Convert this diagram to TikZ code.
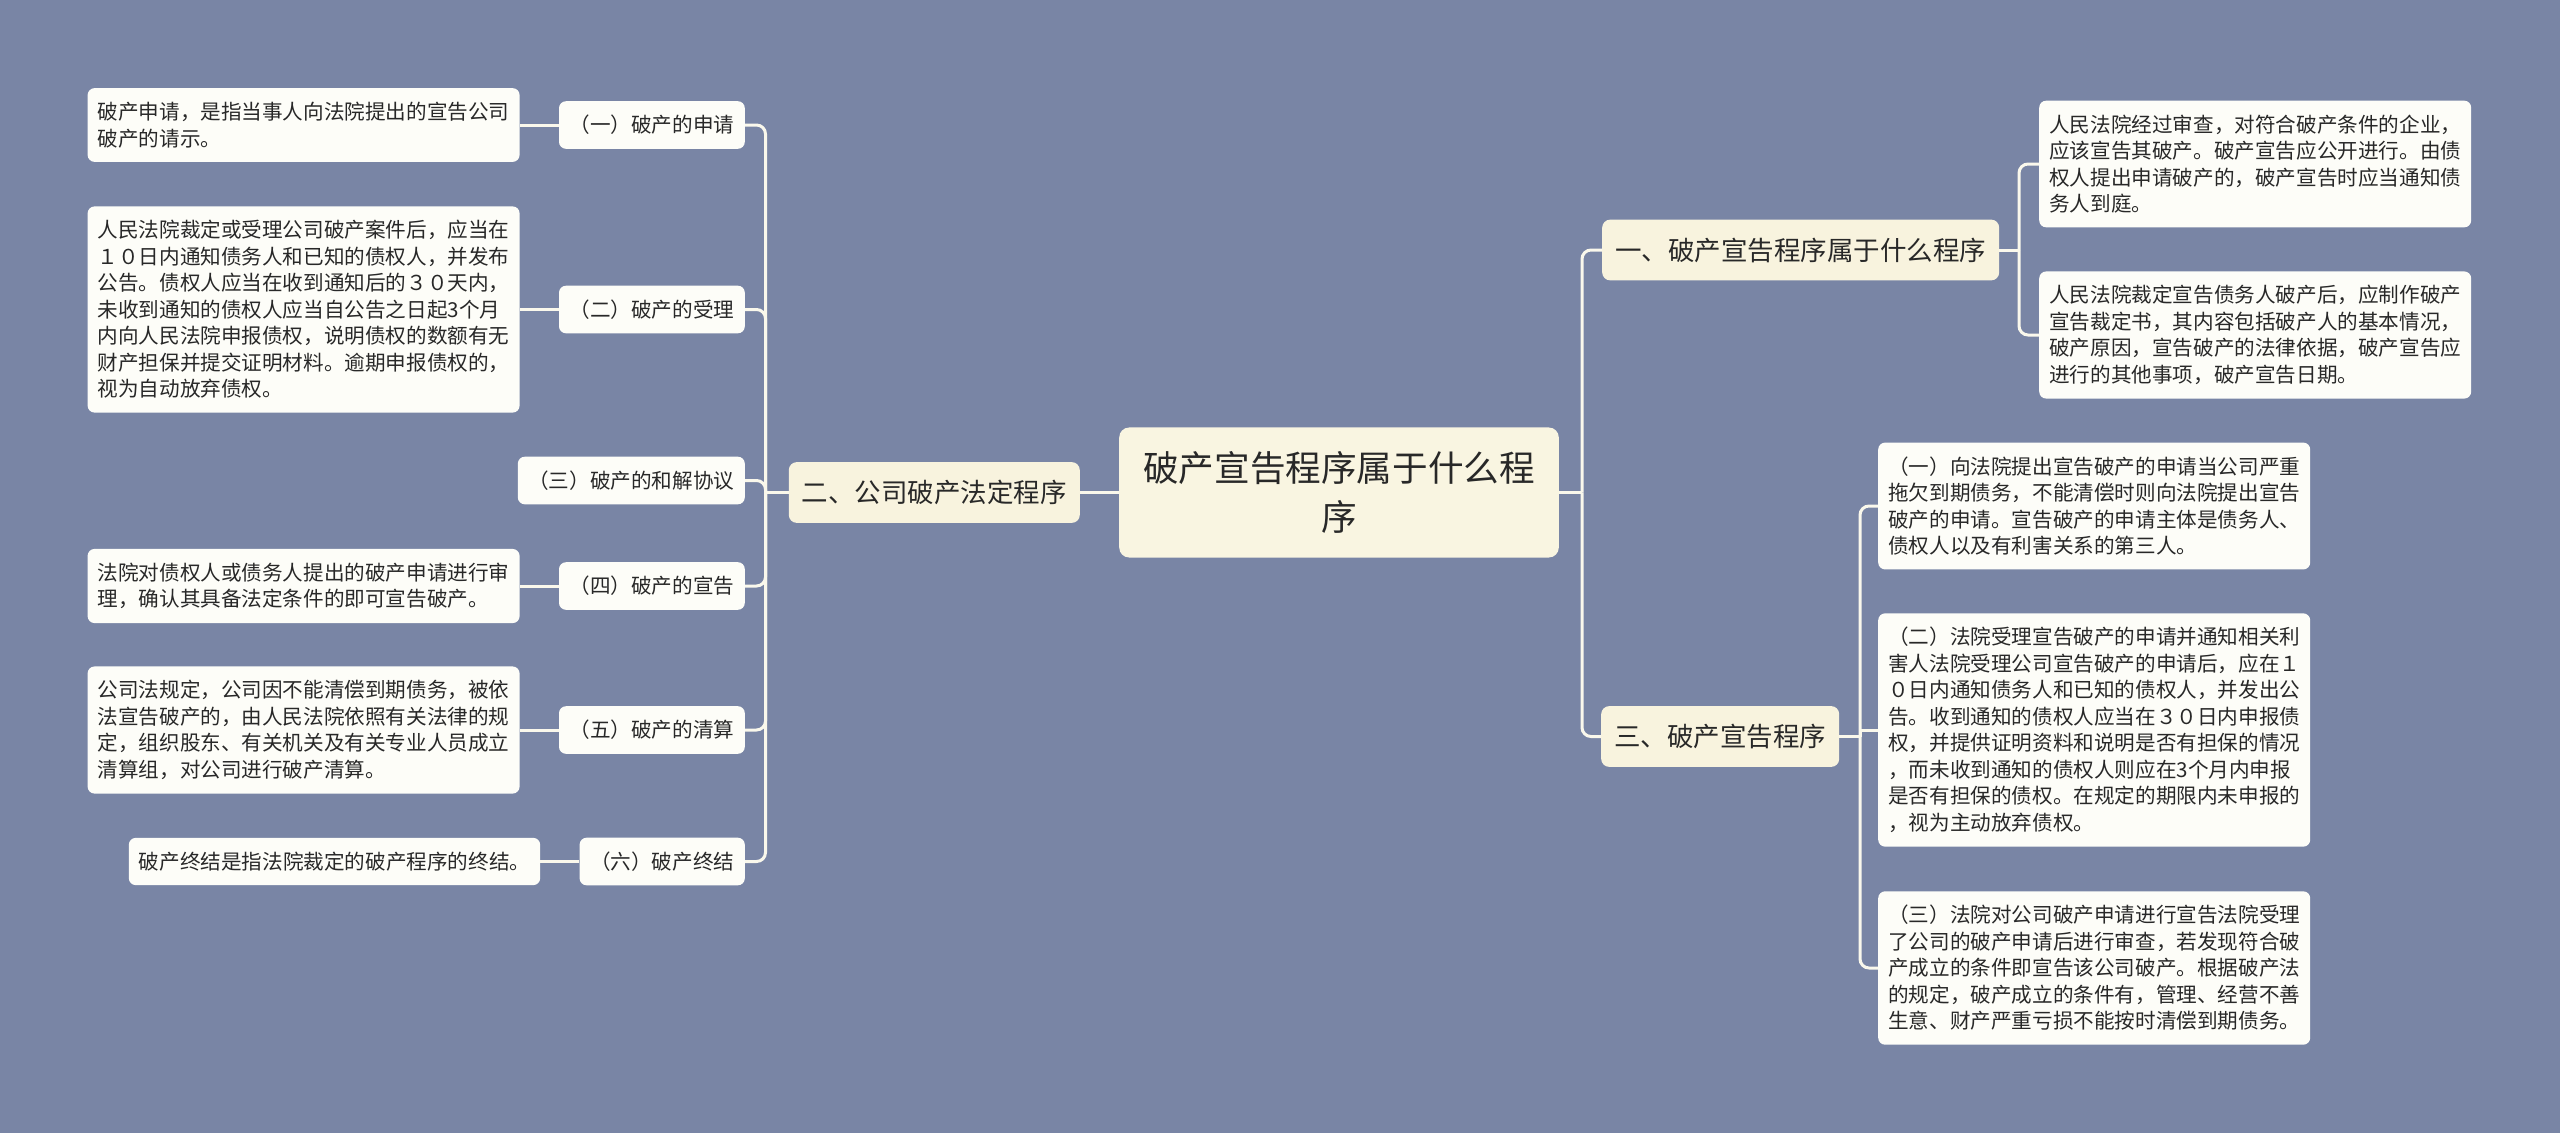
\documentclass[tikz,border=0pt]{standalone}
\usepackage{fontspec}
\setmainfont{Noto Sans CJK SC}
\usetikzlibrary{positioning}

\definecolor{bgblue}{RGB}{121,133,165}
\definecolor{rootcream}{RGB}{249,245,225}
\definecolor{branchcream}{RGB}{248,243,222}
\definecolor{leafwhite}{RGB}{253,253,248}
\definecolor{linecream}{RGB}{250,248,236}
\definecolor{textgray}{RGB}{40,40,40}

\begin{document}
\begin{tikzpicture}[x=1pt, y=-1pt,
	rootbox/.style={fill=rootcream, rounded corners=10pt, inner xsep=24pt, inner ysep=24pt,
		align=center, text=textgray, font=\fontsize{35.6}{49}\selectfont},
	branchbox/.style={fill=branchcream, rounded corners=8pt, inner xsep=13pt, inner ysep=18pt,
		text=textgray, font=\fontsize{26.5}{30}\selectfont},
	labelbox/.style={fill=leafwhite, rounded corners=7pt, inner xsep=10.5pt, inner ysep=14pt,
		text=textgray, font=\fontsize{20.6}{24}\selectfont},
	leafbox/.style={fill=leafwhite, rounded corners=7pt, inner xsep=10pt, inner ysep=14pt,
		align=left, text=textgray, font=\fontsize{20.6}{26.5}\selectfont},
	link/.style={draw=linecream, line width=3pt},
	elbow/.style={link, rounded corners=9pt}]
	
	%Background
	\fill[bgblue] (0,0) rectangle (2560,1133);
	\useasboundingbox (0,0) rectangle (2560,1133);
	
	%Root
	\node (root) at (1339,492.5) [rootbox] {破产宣告程序属于什么程\\序};
	
	%Left branch
	\node (brTwo) [branchbox, left=39pt of root] {二、公司破产法定程序};
	
	\node (labA) at (745,125) [labelbox, anchor=east] {（一）破产的申请};
	\node (labB) at (745,309.5) [labelbox, anchor=east] {（二）破产的受理};
	\node (labC) at (745,480.5) [labelbox, anchor=east] {（三）破产的和解协议};
	\node (labD) at (745,586) [labelbox, anchor=east] {（四）破产的宣告};
	\node (labE) at (745,730) [labelbox, anchor=east] {（五）破产的清算};
	\node (labF) at (745,861.5) [labelbox, anchor=east] {（六）破产终结};
	
	\node (leafA) [leafbox, left=39pt of labA] {破产申请，是指当事人向法院提出的宣告公司\\破产的请示。};
	\node (leafB) [leafbox, left=39pt of labB] {人民法院裁定或受理公司破产案件后，应当在\\１０日内通知债务人和已知的债权人，并发布\\公告。债权人应当在收到通知后的３０天内，\\未收到通知的债权人应当自公告之日起3个月\\内向人民法院申报债权，说明债权的数额有无\\财产担保并提交证明材料。逾期申报债权的，\\视为自动放弃债权。};
	\node (leafD) [leafbox, left=39pt of labD] {法院对债权人或债务人提出的破产申请进行审\\理，确认其具备法定条件的即可宣告破产。};
	\node (leafE) [leafbox, left=39pt of labE] {公司法规定，公司因不能清偿到期债务，被依\\法宣告破产的，由人民法院依照有关法律的规\\定，组织股东、有关机关及有关专业人员成立\\清算组，对公司进行破产清算。};
	\node (leafF) [leafbox, left=39pt of labF] {破产终结是指法院裁定的破产程序的终结。};
	
	%Right branches
	\node (brOne) at (1602,250) [branchbox, anchor=west] {一、破产宣告程序属于什么程序};
	\node (brThree) at (1601,736.5) [branchbox, anchor=west] {三、破产宣告程序};
	
	\node (leafRA) at (2039,164) [leafbox, anchor=west] {人民法院经过审查，对符合破产条件的企业，\\应该宣告其破产。破产宣告应公开进行。由债\\权人提出申请破产的，破产宣告时应当通知债\\务人到庭。};
	\node (leafRB) at (2039,335) [leafbox, anchor=west] {人民法院裁定宣告债务人破产后，应制作破产\\宣告裁定书，其内容包括破产人的基本情况，\\破产原因，宣告破产的法律依据，破产宣告应\\进行的其他事项，破产宣告日期。};
	
	\node (leafRC) at (1878,506) [leafbox, anchor=west] {（一）向法院提出宣告破产的申请当公司严重\\拖欠到期债务，不能清偿时则向法院提出宣告\\破产的申请。宣告破产的申请主体是债务人、\\债权人以及有利害关系的第三人。};
	\node (leafRD) at (1878,730) [leafbox, anchor=west] {（二）法院受理宣告破产的申请并通知相关利\\害人法院受理公司宣告破产的申请后，应在１\\０日内通知债务人和已知的债权人，并发出公\\告。收到通知的债权人应当在３０日内申报债\\权，并提供证明资料和说明是否有担保的情况\\，而未收到通知的债权人则应在3个月内申报\\是否有担保的债权。在规定的期限内未申报的\\，视为主动放弃债权。};
	\node (leafRE) at (1878,968) [leafbox, anchor=west] {（三）法院对公司破产申请进行宣告法院受理\\了公司的破产申请后进行审查，若发现符合破\\产成立的条件即宣告该公司破产。根据破产法\\的规定，破产成立的条件有，管理、经营不善\\生意、财产严重亏损不能按时清偿到期债务。};
	
	%Spines
	\coordinate (spineL) at (765.5,492.5);
	\coordinate (spineR) at (1582,492.5);
	\coordinate (spineOne) at (2019,250);
	\coordinate (spineThree) at (1860,736.5);
	
	%Links left
	\draw[link] (root.west) -- (brTwo.east);
	\draw[link] (brTwo.west) -- (spineL);
	\foreach \lab in {labA,labB,labC,labD,labE,labF}
		\draw[elbow] (spineL) |- (\lab.east);
	\draw[link] (labA.west) -- (leafA.east);
	\draw[link] (labB.west) -- (leafB.east);
	\draw[link] (labD.west) -- (leafD.east);
	\draw[link] (labE.west) -- (leafE.east);
	\draw[link] (labF.west) -- (leafF.east);
	
	%Links right
	\draw[link] (root.east) -- (spineR);
	\draw[elbow] (spineR) |- (brOne.west);
	\draw[elbow] (spineR) |- (brThree.west);
	
	\draw[link] (brOne.east) -- (spineOne);
	\draw[elbow] (spineOne) |- (leafRA.west);
	\draw[elbow] (spineOne) |- (leafRB.west);
	
	\draw[link] (brThree.east) -- (spineThree);
	\draw[elbow] (spineThree) |- (leafRC.west);
	\draw[link] (spineThree) |- (leafRD.west);
	\draw[elbow] (spineThree) |- (leafRE.west);
	
\end{tikzpicture}
\end{document}
